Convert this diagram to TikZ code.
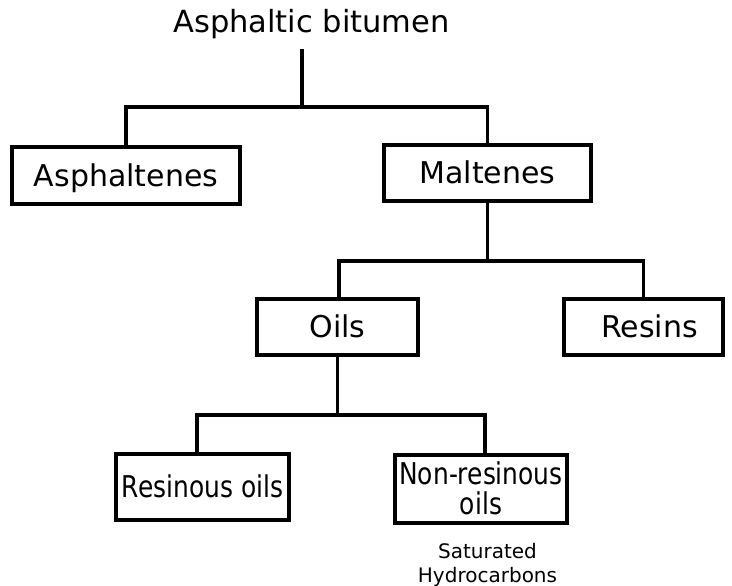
\documentclass[tikz,border=0pt]{standalone}
\usepackage{fontspec}
\setmainfont{DejaVu Sans}
\begin{document}
\begin{tikzpicture}[x=1pt,y=-1pt,
  box/.style={draw, line width=3.6pt, inner sep=0pt, align=center,
    text height=24pt, text depth=3pt, font=\fontsize{30}{30}\selectfont},
  conn/.style={line width=3.6pt}]
\useasboundingbox (0,0) rectangle (732,586);
\node[anchor=base, inner sep=0pt, font=\fontsize{30.5}{30.5}\selectfont] (title) at (311.5,33) {Asphaltic bitumen};
\node[box, minimum width=228pt, minimum height=57pt] (asph) at (126,175.5) {Asphaltenes};
\node[box, minimum width=207pt, minimum height=56pt] (malt) at (487.5,173) {Maltenes};
\node[box, minimum width=161pt, minimum height=56pt] (oils) at (337.5,327) {Oils};
\node[box, minimum width=159pt, minimum height=56pt] (resins) at (643.5,327) {\hspace{12pt}Resins};
\node[box, minimum width=173pt, minimum height=66pt] (resoil) at (202.5,487) {\scalebox{0.83}[1]{Resinous oils}};
\node[box, minimum width=172pt, minimum height=68pt, text height=54pt] (nonres) at (481,489) {\scalebox{0.83}[1]{Non-resinous}\\\scalebox{0.83}[1]{oils}};
\node[align=center, inner sep=0pt, font=\fontsize{20}{24}\selectfont, text height=39pt, text depth=5pt] (sat) at (487.5,565) {Saturated\\Hydrocarbons};
\coordinate (t0) at (302,49);
\coordinate (j1) at (302,107);
\coordinate (j2) at (487.5,261);
\coordinate (j3) at (337.5,415);
\draw[conn] (t0) -- (j1);
\draw[conn] (asph.north) |- (j1) -| (malt.north);
\draw[conn] (malt.south) -- (j2);
\draw[conn] ([xshift=1.5pt]oils.north) |- (j2) -| (resins.north);
\draw[conn] (oils.south) -- (j3);
\draw[conn] ([xshift=-5.5pt]resoil.north) |- (j3) -| ([xshift=4pt]nonres.north);
\end{tikzpicture}
\end{document}
